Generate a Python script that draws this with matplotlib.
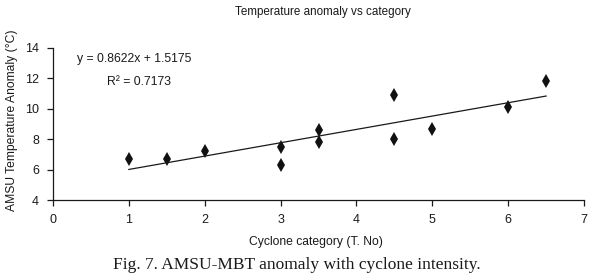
"""nuage de points anomalie AMSU vs catégorie de cyclone, avec droite de tendance"""

import matplotlib
matplotlib.use("Agg")
import matplotlib.pyplot as plt
import numpy as np

# données
categorie = [1, 1.5, 2, 3, 3, 3.5, 3.5, 4.5, 4.5, 5, 6, 6.5]
anomalie = [6.68, 6.68, 7.2, 7.5, 6.3, 8.6, 7.8, 10.9, 8.0, 8.7, 10.1, 11.8]
x_ticks = [0, 1, 2, 3, 4, 5, 6, 7]
y_ticks = [4, 6, 8, 10, 12, 14]
equation = "y = 0.8622x + 1.5175"
r2 = "R² = 0.7173"

plt.rcParams["font.family"] = ["Liberation Sans", "DejaVu Sans"]

fig = plt.figure(figsize=(5.91, 2.80), dpi=100)
ax = fig.add_axes([0.0897, 0.2846, 0.8985, 0.545])

ax.plot(categorie, anomalie, linestyle="none", marker="d", markersize=7.5,
        color="#111111", markeredgewidth=0)

# droite de tendance (moindres carrés)
a, b = np.polyfit(categorie, anomalie, 1)
xt = np.array([min(categorie), max(categorie)])
ax.plot(xt, a * xt + b, color="#1a1a1a", linewidth=0.9)

ax.set_xlim(0, 7)
ax.set_ylim(4, 14)
ax.set_xticks(x_ticks)
ax.set_yticks(y_ticks)
ax.tick_params(direction="out", length=4, width=0.9, labelsize=9, pad=6,
               colors="#1a1a1a")
for s in ["top", "right"]:
    ax.spines[s].set_visible(False)
for s in ["left", "bottom"]:
    ax.spines[s].set_linewidth(0.9)
    ax.spines[s].set_color("#1a1a1a")

ax.text(0.32, 13.27, equation, fontsize=8.8, color="#1a1a1a", va="center")
ax.text(1.13, 11.76, r2, fontsize=8.8, color="#1a1a1a", va="center", ha="center")

fig.text(323 / 591, 1 - 12 / 280, "Temperature anomaly vs category",
         ha="center", va="center", fontsize=8.4, color="#1a1a1a")
fig.text(316 / 591, 1 - 242 / 280, "Cyclone category (T. No)",
         ha="center", va="center", fontsize=8.7, color="#1a1a1a")
fig.text(12 / 591, 1 - 120 / 280, "AMSU Temperature Anomaly (°C)",
         ha="center", va="center", rotation=90, fontsize=8.7, color="#1a1a1a")
fig.text(297 / 591, 1 - 265 / 280, "Fig. 7. AMSU-MBT anomaly with cyclone intensity.",
         ha="center", va="center", fontsize=12.5, family="Liberation Serif",
         color="#1a1a1a")

fig.savefig("out.png", dpi=100)
